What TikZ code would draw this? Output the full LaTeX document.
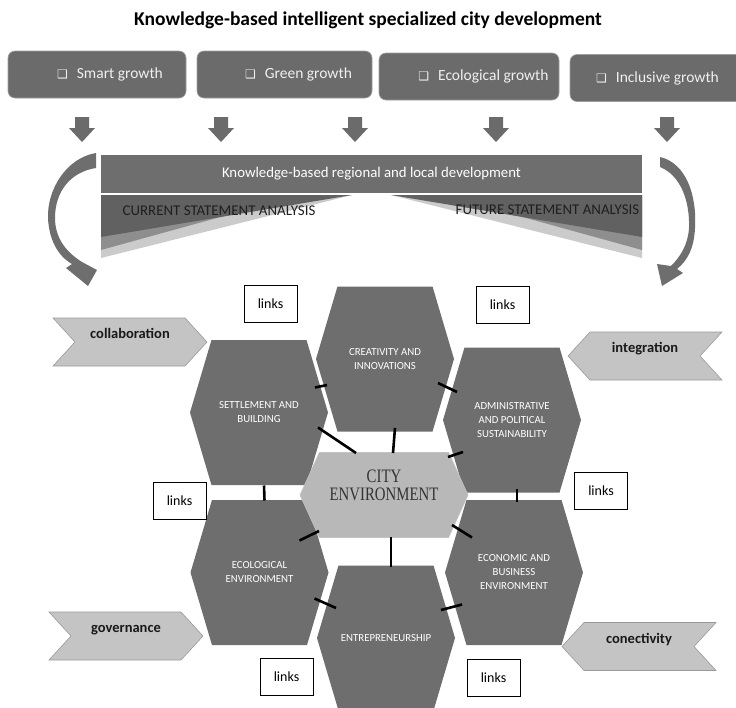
\documentclass[tikz,border=0pt]{standalone}
\usepackage{fontspec}
\usepackage{graphicx}
\setmainfont{Carlito}
\newfontfamily\symfont{DejaVu Sans}
\newfontfamily\cityfont{Liberation Serif}
\usetikzlibrary{shapes.symbols,calc}
\definecolor{boxgray}{HTML}{6B6B6B}
\definecolor{hexgray}{HTML}{6E6E6E}
\definecolor{citygray}{HTML}{B8B8B8}
\definecolor{chevgray}{HTML}{C4C4C4}
\definecolor{chevline}{HTML}{9A9A9A}
\definecolor{wedgedark}{HTML}{616161}
\definecolor{wedgemid}{HTML}{8E8E8E}
\definecolor{wedgelight}{HTML}{CBCBCB}
\newcommand{\chk}{{\symfont\fontsize{12}{12}\selectfont ❑}\hspace{9pt}}
\begin{document}
\begin{tikzpicture}[x=1pt,y=-1pt]
\tikzset{
 topbox/.style={rectangle, rounded corners=7pt, fill=boxgray, draw=gray!75, line width=0.6pt, minimum height=47pt, text=white!94!black, font=\fontsize{15.5}{17}\selectfont, inner sep=0pt},
 hexbox/.style={signal, signal to=east and west, signal pointer angle=147, fill=hexgray, minimum width=138pt, minimum height=145pt, inner sep=0pt, text=white, align=center, font=\fontsize{10.8}{14}\selectfont},
 citybox/.style={signal, signal to=east and west, signal pointer angle=131, fill=citygray, draw=citygray!85!white, line width=0.6pt, minimum width=168pt, minimum height=85pt, inner sep=0pt},
 citytext/.style={align=center, text=black!80, font=\cityfont\fontsize{19}{18}\selectfont, inner sep=0pt},
 chevR/.style={signal, signal to=east, signal from=west, signal pointer angle=95, fill=chevgray, draw=chevline, line width=0.6pt, minimum width=154pt, minimum height=48pt, inner sep=0pt, text height=10pt, text depth=17pt, font=\bfseries\fontsize{14.5}{16}\selectfont, text=black!90},
 chevL/.style={chevR, signal to=west, signal from=east},
 linkbox/.style={rectangle, draw=black, line width=0.8pt, fill=white, minimum width=53pt, minimum height=37pt, inner sep=0pt, font=\fontsize{14}{16}\selectfont},
 tie/.style={line width=2.6pt, black},
 bandtext/.style={text=white, font=\fontsize{14.8}{16}\selectfont, inner sep=0pt},
 anatext/.style={text=black!88, font=\fontsize{14.9}{16}\selectfont, inner sep=0pt},
}
\useasboundingbox (0,0) rectangle (736,707);
\clip (0,0) rectangle (736,707);
\fill[white] (0,0) rectangle (736,707);

% title
\node[font=\bfseries\fontsize{19.5}{21}\selectfont, inner sep=0pt] (title) at (368,20) {Knowledge-based intelligent specialized city development};

% top boxes
\node[topbox, minimum width=178pt] (smart) at (97,74.5) {\hspace*{26pt}\chk Smart growth};
\node[topbox, minimum width=175pt] (green) at (284.5,74.5) {\hspace*{28pt}\chk Green growth};
\node[topbox, minimum width=180pt] (ecol) at (469,76.5) {\hspace*{29pt}\chk Ecological growth};
\node[topbox, minimum width=175pt] (incl) at (657.5,78) {\chk Inclusive growth};

% down block arrows
\foreach \ax in {82,221,355,496,667}
  \fill[boxgray] (\ax-7,117) -- (\ax+7,117) -- (\ax+7,128) -- (\ax+13,128) -- (\ax,142) -- (\ax-13,128) -- (\ax-7,128) -- cycle;

% band
\node[rectangle, fill=hexgray, minimum width=541pt, minimum height=38pt, inner sep=0pt] (band) at (371.5,174) {};
\node[bandtext] (bandlbl) at (band.center) {Knowledge-based regional and local development};

% wedges left
\fill[wedgelight] (101,195) -- (352,195) -- (101,258) -- cycle;
\fill[wedgemid] (101,195) -- (300,195) -- (101,250) -- cycle;
\fill[wedgedark] (101,195) -- (352,195) -- (101,237) -- cycle;
% wedges right
\fill[wedgelight] (642,195) -- (391,195) -- (642,258) -- cycle;
\fill[wedgemid] (642,195) -- (443,195) -- (642,250) -- cycle;
\fill[wedgedark] (642,195) -- (391,195) -- (642,237) -- cycle;

\node[anatext] (cur) at (219,211) {CURRENT STATEMENT ANALYSIS};
\node[anatext] (fut) at (547.5,210) {FUTURE STATEMENT ANALYSIS};

% curved arrows
\fill[hexgray] (96,153) .. controls (66,158) and (47,190) .. (48,218)
  .. controls (49,240) and (58,256) .. (72,264) -- (66,268) -- (88,286) -- (97,270) -- (82,262)
  .. controls (66,252) and (55,238) .. (55,218) .. controls (55,192) and (70,172) .. (96,168) -- cycle;
\fill[hexgray] (660,157) .. controls (686,163) and (697,195) .. (695,228)
  .. controls (694,248) and (688,260) .. (677,269) -- (683,273) -- (662,286) -- (657,264) -- (671,266)
  .. controls (681,256) and (688,244) .. (689,228) .. controls (690,200) and (680,175) .. (660,167) -- cycle;

% chevrons
\node[chevR] (collab) at (130,342) {collaboration};
\node[chevL] (integ) at (645,356) {integration};
\node[chevR] (gov) at (126,636) {governance};
\node[chevL] (conec) at (639,646.5) {conectivity};

% hexagons
\node[hexbox] (cre) at (385,359) {CREATIVITY AND\\INNOVATIONS};
\node[hexbox] (set) at (259,412.5) {SETTLEMENT AND\\BUILDING};
\node[hexbox] (adm) at (512,420) {ADMINISTRATIVE\\AND POLITICAL\\SUSTAINABILITY};
\node[hexbox] (eco) at (259.5,572.5) {ECOLOGICAL\\ENVIRONMENT};
\node[hexbox] (ent) at (386,638) {ENTREPRENEURSHIP};
\node[hexbox] (ebe) at (514,572.5) {ECONOMIC AND\\BUSINESS\\ENVIRONMENT};
\node[citybox, label={[citytext, name=citylbl, yshift=10pt]center:\scalebox{0.78}[1]{CITY}\\\scalebox{0.78}[1]{ENVIRONMENT}}] (city) at (384,495) {};

% ties
\draw[tie] ($(set.center)+(56,-25)$) -- ($(cre.center)+(-58,26)$);
\draw[tie] ($(cre.center)+(53,24)$) -- ($(adm.center)+(-55,-28)$);
\draw[tie] ($(set.center)+(59,15)$) -- ($(city.center)+(-28,-42)$);
\draw[tie] ($(cre.center)+(10,69)$) -- ($(city.center)+(9,-42)$);
\draw[tie] ($(city.center)+(64,-38)$) -- ($(adm.center)+(-49,32)$);
\draw[tie] ($(set.center)+(5,73)$) -- ($(eco.center)+(5,-72)$);
\draw[tie] ($(adm.center)+(5,69)$) -- ($(ebe.center)+(3,-71)$);
\draw[tie] ($(eco.center)+(40,-32)$) -- ($(city.center)+(-65,36)$);
\draw[tie] ($(city.center)+(7,42)$) -- ($(ent.center)+(5,-71)$);
\draw[tie] ($(city.center)+(68,30)$) -- ($(ebe.center)+(-42,-35)$);
\draw[tie] ($(eco.center)+(55,26)$) -- ($(ent.center)+(-50,-30)$);
\draw[tie] ($(ent.center)+(55,-28)$) -- ($(ebe.center)+(-52,32)$);

% links boxes
\node[linkbox] (l1) at (270.5,304) {links};
\node[linkbox] (l2) at (502.5,304.5) {links};
\node[linkbox] (l3) at (179.5,500.5) {links};
\node[linkbox] (l4) at (601,491) {links};
\node[linkbox] (l5) at (286.5,676.5) {links};
\node[linkbox] (l6) at (493.5,678) {links};
\end{tikzpicture}
\end{document}
